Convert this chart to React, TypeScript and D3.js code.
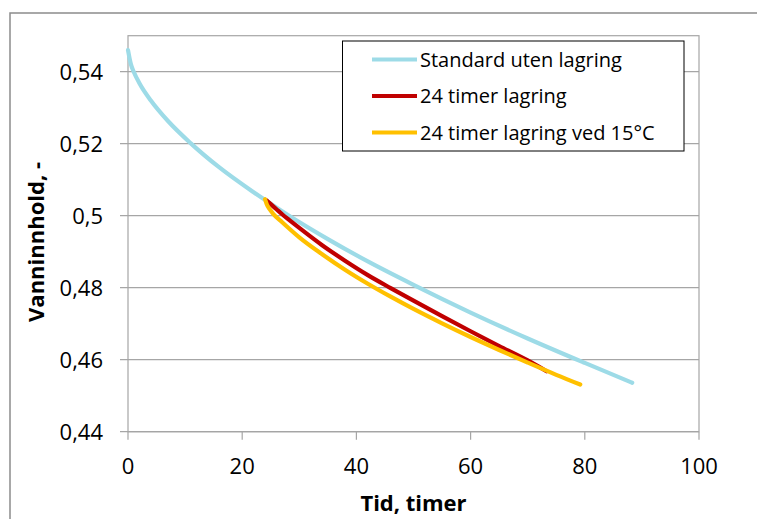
import React from "react";
import * as d3 from "d3";

const xTicks = [0, 20, 40, 60, 80, 100];
const yTicks = [0.44, 0.46, 0.48, 0.5, 0.52, 0.54];

const standardData: [number, number][] = [
  [0, 0.546], [0.5, 0.5421], [1, 0.540], [2, 0.5368], [4, 0.532], [7, 0.5263],
  [11, 0.5201], [16, 0.5134], [22, 0.5065], [28, 0.5002], [35, 0.4935], [42, 0.4873],
  [50, 0.4808], [60, 0.4731], [70, 0.4659], [80, 0.4591], [88.3, 0.4536],
];
const storedData: [number, number][] = [
  [24.3, 0.5042], [25, 0.5032], [26, 0.5018], [27, 0.5004], [28, 0.4991], [30, 0.4966],
  [34, 0.4918], [38, 0.4875], [42, 0.4835], [46, 0.4799], [50, 0.4764], [55, 0.4721],
  [60, 0.4679], [65, 0.4638], [70, 0.4598], [73.3, 0.4568],
];
const stored15Data: [number, number][] = [
  [24.0, 0.5046], [24.3, 0.5032], [24.8, 0.5018], [25.5, 0.5004], [27, 0.4982],
  [30, 0.494], [34, 0.4893], [38, 0.485], [42, 0.4811], [46, 0.4775], [50, 0.4741],
  [55, 0.4701], [60, 0.4663], [65, 0.4627], [70, 0.4592], [75, 0.4558], [79.2, 0.4531],
];

const seriesNames = ["Standard uten lagring", "24 timer lagring", "24 timer lagring ved 15°C"];
const seriesColors = ["#9DDBE7", "#C00000", "#FFC000"];
const seriesData = [standardData, storedData, stored15Data];

const W = 757, H = 519;
const L = 128, R = 699, T = 35.7, B = 431.7;
const FONT = "'Open Sans', 'Noto Sans', sans-serif";

export default function App() {
  const x = d3.scaleLinear().domain([0, 100]).range([L, R]);
  const y = d3.scaleLinear().domain([0.44, 0.55]).range([B, T]);
  const line = d3.line<[number, number]>().x(d => x(d[0])).y(d => y(d[1])).curve(d3.curveMonotoneX);
  const fmt = (v: number) => (Math.round(v * 100) / 100).toString().replace(".", ",");

  return (
    <svg width={W} height={H} style={{ position: "absolute", left: 0, top: 0, background: "#fff" }} fontFamily={FONT}>
      <rect x={0} y={0} width={W} height={H} fill="#fff" />
      <rect x={10} y={13} width={W + 20} height={H + 20} fill="none" stroke="#8c8c8c" strokeWidth={1.5} />
      {yTicks.map(v => (
        <g key={"y" + v}>
          <line x1={L - 8} x2={R} y1={y(v)} y2={y(v)} stroke="#a6a6a6" strokeWidth={1.2} />
          <text x={103} y={y(v)} dy="0.36em" textAnchor="end" fontSize={22} fill="#000">{fmt(v)}</text>
        </g>
      ))}
      <rect x={L} y={T} width={R - L} height={B - T} fill="none" stroke="#a6a6a6" strokeWidth={1.2} />
      {xTicks.map(v => (
        <g key={"x" + v}>
          <line x1={x(v)} x2={x(v)} y1={B} y2={B + 8} stroke="#a6a6a6" strokeWidth={1.2} />
          <text x={x(v)} y={474} textAnchor="middle" fontSize={22} fill="#000">{v}</text>
        </g>
      ))}
      {seriesData.map((d, i) => (
        <path key={"s" + i} d={line(d) || ""} fill="none" stroke={seriesColors[i]} strokeWidth={4.2} strokeLinecap="round" strokeLinejoin="round" />
      ))}
      <text x={(x(0) + x(100)) / 2} y={511} textAnchor="middle" fontSize={22} fontWeight="bold">Tid, timer</text>
      <text transform={`translate(44,242) rotate(-90)`} textAnchor="middle" fontSize={22} fontWeight="bold">Vanninnhold, -</text>
      <rect x={342.5} y={41} width={341.5} height={110} fill="#fff" stroke="#000" strokeWidth={1} />
      {seriesNames.map((n, i) => (
        <g key={"l" + i}>
          <line x1={372} x2={417} y1={59.5 + i * 36.5} y2={59.5 + i * 36.5} stroke={seriesColors[i]} strokeWidth={4} />
          <text x={420} y={59.5 + i * 36.5} dy="0.36em" fontSize={20} fill="#000">{n}</text>
        </g>
      ))}
    </svg>
  );
}
